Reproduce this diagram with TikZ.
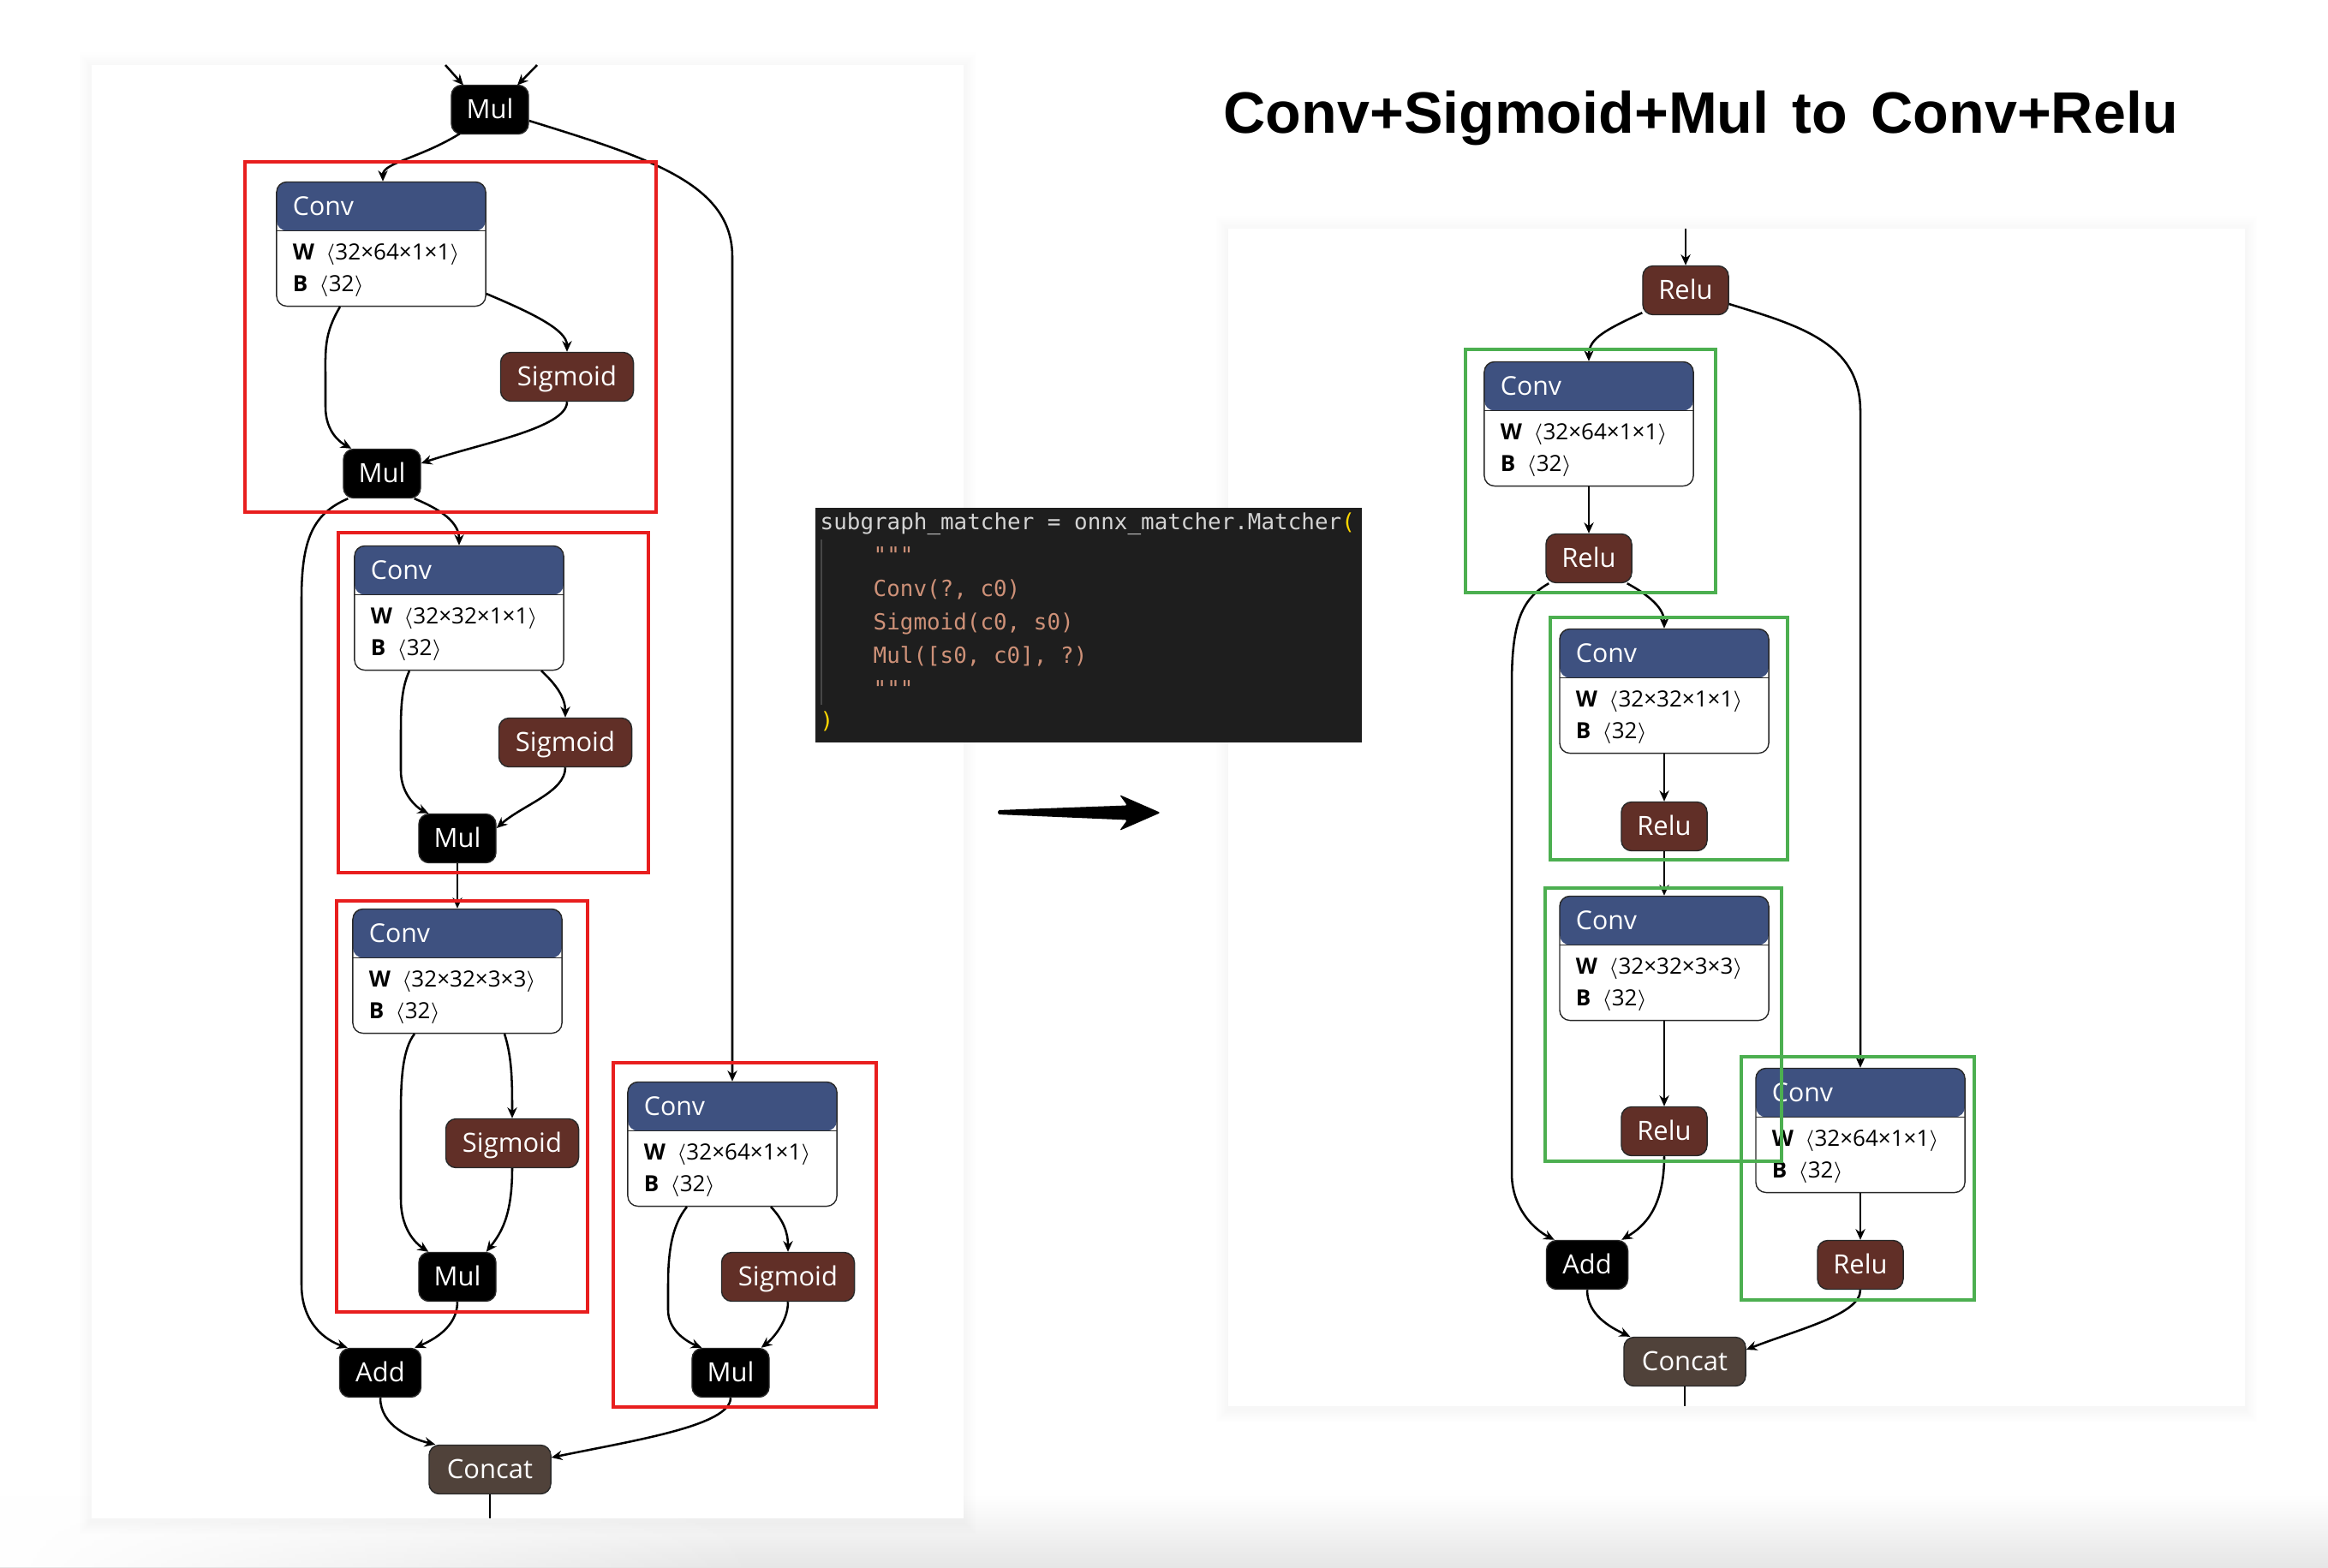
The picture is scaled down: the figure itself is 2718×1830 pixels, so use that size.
\documentclass[tikz,border=0pt]{standalone}
\usepackage{fontspec}
\usetikzlibrary{calc,arrows.meta,fadings}
\newfontfamily\nodefont{Open Sans}
\newfontfamily\codefont{DejaVu Sans Mono}
\newfontfamily\titlefont{Liberation Sans}
\definecolor{convblue}{RGB}{62,81,128}
\definecolor{actred}{RGB}{97,47,39}
\definecolor{concatbrown}{RGB}{80,66,58}
\definecolor{boxred}{RGB}{232,30,30}
\definecolor{boxgreen}{RGB}{76,175,80}
\definecolor{codebg}{RGB}{30,30,30}
\definecolor{codefg}{RGB}{212,212,212}
\definecolor{codestr}{RGB}{206,145,120}
\definecolor{codepar}{RGB}{255,215,0}
\definecolor{codeguide}{RGB}{70,70,70}
\definecolor{nodeborder}{RGB}{40,40,40}
\definecolor{stripgray}{RGB}{230,230,230}
\newcommand\convnode[4]{%
  \node[convbox] (#1) at (#2,#3) {};
  \node[ctitle] (#1t) at ($(#1.north west)+(19,40)$) {Conv};
  \node[cattr] (#1w) at ($(#1.north west)+(19,92)$) {\textbf{W}\hspace{0.5em}$\langle$#4$\rangle$};
  \node[cattr] (#1b) at ($(#1.north west)+(19,129)$) {\textbf{B}\hspace{0.5em}$\langle$32$\rangle$};
}
\newcommand\panelshadow[4]{%
  \foreach \i in {1,...,8}{%
    \fill[black, opacity=0.005] ($(#1,#2)+(-1.8*\i,-2.2*\i+3)$) rectangle ($(#3,#4)+(1.8*\i,1.8*\i+4)$);
  }
}
\begin{document}
\begin{tikzpicture}[x=0.01cm,y=-0.01cm,
  opnode/.style={draw=nodeborder, line width=0.4pt, rounded corners=3.4pt, text=white,
    font=\nodefont\fontsize{8.8}{10}\selectfont, minimum height=0.57cm, inner sep=0pt,
    text height=6.2pt, text depth=0pt},
  mulnode/.style={opnode, fill=black, minimum width=0.90cm},
  addnode/.style={opnode, fill=black, minimum width=0.95cm},
  signode/.style={opnode, fill=actred, minimum width=1.55cm},
  relunode/.style={opnode, fill=actred, minimum width=1.00cm},
  concatnode/.style={opnode, fill=concatbrown, minimum width=1.42cm},
  convbox/.style={draw=nodeborder, line width=0.4pt, fill=white, rounded corners=3.4pt,
    minimum width=2.44cm, minimum height=1.45cm, inner sep=0pt,
    path picture={\fill[convblue] (path picture bounding box.north west) rectangle ($(path picture bounding box.north east)+(0,57)$);
      \draw[nodeborder, line width=0.4pt] ($(path picture bounding box.north west)+(0,57)$) -- ($(path picture bounding box.north east)+(0,57)$);}},
  ctitle/.style={anchor=base west, inner sep=0pt, text=white, font=\nodefont\fontsize{8.6}{10}\selectfont},
  cattr/.style={anchor=base west, inner sep=0pt, text=black, font=\nodefont\fontsize{7.4}{8}\selectfont},
  edge/.style={draw=black, line width=0.72pt, -{Stealth[length=3.6pt,width=3.2pt,inset=1.2pt]}},
  plainedge/.style={draw=black, line width=0.72pt},
  redbox/.style={draw=boxred, line width=1.15pt},
  greenbox/.style={draw=boxgreen, line width=1.15pt},
  codeline/.style={anchor=base west, inner sep=0pt, font=\codefont\fontsize{7.37}{9}\selectfont},
]
% canvas
\fill[white] (0,0) rectangle (2718,1830);
\useasboundingbox (0,0) rectangle (2718,1830);
\shade[top color=white, bottom color=stripgray] (0,1745) rectangle (2718,1830);
\fill[white, path fading=east] (0,1745) rectangle (900,1830);

% panels
\panelshadow{107}{76}{1125}{1773}
\panelshadow{1434}{267}{2621}{1642}
\fill[white] (107,76) rectangle (1125,1773);
\fill[white] (1434,267) rectangle (2621,1642);

% title
\node[anchor=base west, inner sep=0pt, font=\titlefont\bfseries\fontsize{19.4}{24}\selectfont] (title) at (1428,155)
  {Conv+Sigmoid+Mul\hspace{0.4em}to\hspace{0.4em}Conv+Relu};

% code box
\fill[codebg] (952,593) rectangle (1590,867);
\draw[codeguide, line width=0.6pt] (959,630) -- (959,823);
\node[codeline] (cl1) at (957,618) {\color{codefg}subgraph\_matcher = onnx\_matcher.Matcher\color{codepar}(};
\node[codeline, text=codestr] (cl2) at (1019,657) {"""};
\node[codeline, text=codestr] (cl3) at (1019,696) {Conv(?, c0)};
\node[codeline, text=codestr] (cl4) at (1019,735) {Sigmoid(c0, s0)};
\node[codeline, text=codestr] (cl5) at (1019,774) {Mul([s0, c0], ?)};
\node[codeline, text=codestr] (cl6) at (1019,813) {"""};
\node[codeline, text=codepar] (cl7) at (957,850) {)};

% big arrow
\fill[black, rounded corners=0.5pt] (1165,946) -- (1316,940.5) -- (1307,928) -- (1355,949) -- (1307,970) -- (1316,957.5) -- (1165,951) -- cycle;

% ---------- left graph ----------
\node[mulnode] (m0) at (572,128) {Mul};
\convnode{c1}{445}{285}{32×64×1×1}
\node[signode] (s1) at (662,440) {Sigmoid};
\node[mulnode] (m1) at (446,553) {Mul};
\convnode{c2}{536}{710}{32×32×1×1}
\node[signode] (s2) at (660,867) {Sigmoid};
\node[mulnode] (m2) at (534,979) {Mul};
\convnode{c3}{534}{1134}{32×32×3×3}
\node[signode] (s3) at (598,1335) {Sigmoid};
\node[mulnode] (m3) at (534,1491) {Mul};
\convnode{c4}{855}{1336}{32×64×1×1}
\node[signode] (s4) at (920,1491) {Sigmoid};
\node[mulnode] (m4) at (853,1603) {Mul};
\node[addnode] (add) at (444,1603) {Add};
\node[concatnode] (cat) at (572,1716) {Concat};

\coordinate (in1) at (520,76);
\coordinate (in2) at (627,76);
\coordinate (out1) at (572,1773);

\draw[edge] (in1) -- ($(m0)+(-31,-28.5)$);
\draw[edge] (in2) -- ($(m0)+(32,-28.5)$);
\draw[edge] ($(m0)+(-35,28)$) .. controls (490,185) and (447,190) .. ($(c1.north)+(2,0)$);
\draw[edge] ($(m0.east)+(0,13)$) .. controls (760,185) and (855,215) .. (855,300) -- (c4.north);
\draw[edge] ($(c1.east)+(0,58)$) .. controls (620,365) and (662,385) .. (s1.north);
\draw[edge] ($(c1.south)+(-48,0)$) .. controls (378,390) and (380,410) .. (380,440) -- (380,475) .. controls (380,505) and (398,517) .. ($(m1.north west)+(10,0)$);
\draw[edge] (s1.south) .. controls (662,500) and (560,518) .. ($(m1.east)+(0,-12)$);
\draw[edge] ($(m1.south east)+(-8,0)$) .. controls (515,595) and (536,610) .. (c2.north);
\draw[edge] ($(m1.south west)+(6,0)$) .. controls (365,600) and (352,630) .. (352,700) -- (352,1500) .. controls (352,1545) and (380,1565) .. ($(add.north west)+(10,0)$);
\draw[edge] ($(c2.south)+(96,0)$) .. controls (650,800) and (660,815) .. (s2.north);
\draw[edge] ($(c2.south)+(-58,0)$) .. controls (468,805) and (468,830) .. (468,860) -- (468,900) .. controls (468,930) and (490,945) .. ($(m2.north west)+(12,0)$);
\draw[edge] (s2.south) .. controls (660,925) and (610,940) .. ($(m2.east)+(0,-12)$);
\draw[edge] (m2.south) -- (c3.north);
\draw[edge] ($(c3.south)+(55,0)$) .. controls (598,1235) and (598,1265) .. (s3.north);
\draw[edge] ($(c3.south)+(-50,0)$) .. controls (470,1225) and (468,1260) .. (468,1300) -- (468,1400) .. controls (468,1440) and (490,1455) .. ($(m3.north west)+(12,0)$);
\draw[edge] (s3.south) .. controls (598,1420) and (585,1440) .. ($(m3.north east)+(-12,0)$);
\draw[edge] (m3.south) .. controls (534,1550) and (505,1565) .. ($(add.north east)+(-8,0)$);
\draw[edge] ($(c4.south)+(45,0)$) .. controls (915,1425) and (920,1440) .. (s4.north);
\draw[edge] ($(c4.south)+(-53,0)$) .. controls (785,1430) and (780,1460) .. (780,1500) -- (780,1530) .. controls (780,1555) and (805,1568) .. ($(m4.north west)+(12,0)$);
\draw[edge] (s4.south) .. controls (920,1545) and (900,1565) .. ($(m4.north east)+(-10,0)$);
\draw[edge] (add.south) .. controls (444,1665) and (480,1680) .. ($(cat.north west)+(8,0)$);
\draw[edge] (m4.south) .. controls (853,1665) and (740,1682) .. ($(cat.east)+(0,-14)$);
\draw[plainedge] (cat.south) -- (out1);

\draw[redbox] (286,189) rectangle (766,598);
\draw[redbox] (395,622) rectangle (757,1019);
\draw[redbox] (393,1052) rectangle (686,1532);
\draw[redbox] (716,1241) rectangle (1023,1643);

% ---------- right graph ----------
\node[relunode] (rt) at (1968,339) {Relu};
\convnode{k1}{1855}{495}{32×64×1×1}
\node[relunode] (r1) at (1855,652) {Relu};
\convnode{k2}{1943}{807}{32×32×1×1}
\node[relunode] (r2) at (1943,965) {Relu};
\convnode{k3}{1943}{1119}{32×32×3×3}
\node[relunode] (r3) at (1943,1321) {Relu};
\convnode{k4}{2172}{1320}{32×64×1×1}
\node[relunode] (r4) at (2172,1477) {Relu};
\node[addnode] (addr) at (1853,1477) {Add};
\node[concatnode] (catr) at (1967,1590) {Concat};

\coordinate (in3) at (1968,267);
\coordinate (out2) at (1967,1642);

\draw[edge] (in3) -- (rt.north);
\draw[edge] ($(rt.south west)+(0,-3)$) .. controls (1875,385) and (1855,395) .. (k1.north);
\draw[edge] ($(rt.east)+(0,16)$) .. controls (2100,380) and (2172,400) .. (2172,480) -- (k4.north);
\draw[edge] (k1.south) -- (r1.north);
\draw[edge] ($(r1.south east)+(-6,0)$) .. controls (1925,695) and (1943,710) .. (k2.north);
\draw[edge] ($(r1.south west)+(4,0)$) .. controls (1775,700) and (1765,730) .. (1765,800) -- (1765,1370) .. controls (1765,1410) and (1790,1435) .. ($(addr.north west)+(10,0)$);
\draw[edge] (k2.south) -- (r2.north);
\draw[edge] (r2.south) -- (k3.north);
\draw[edge] (k3.south) -- (r3.north);
\draw[edge] (r3.south) .. controls (1943,1410) and (1920,1432) .. ($(addr.north east)+(-8,0)$);
\draw[edge] (k4.south) -- (r4.north);
\draw[edge] (addr.south) .. controls (1853,1535) and (1880,1550) .. ($(catr.north west)+(8,0)$);
\draw[edge] (r4.south) .. controls (2172,1535) and (2100,1552) .. ($(catr.east)+(0,-14)$);
\draw[plainedge] (catr.south) -- (out2);

\draw[greenbox] (1711,408) rectangle (2003,692);
\draw[greenbox] (1810,721) rectangle (2087,1004);
\draw[greenbox] (1804,1037) rectangle (2080,1356);
\draw[greenbox] (2033,1234) rectangle (2305,1518);
\end{tikzpicture}
\end{document}
